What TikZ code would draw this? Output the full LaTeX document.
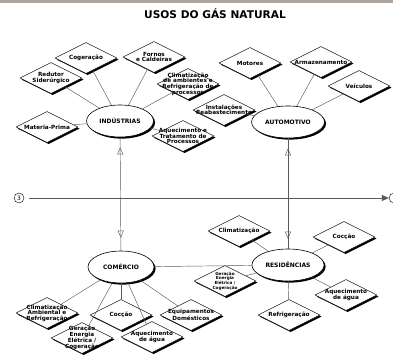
\documentclass[tikz,border=0pt]{standalone}
\usepackage{fontspec}
\setmainfont{DejaVu Sans}
\usetikzlibrary{shapes.geometric,arrows.meta,decorations.markings}

\begin{document}
\begin{tikzpicture}[x=1pt,y=-1pt,
  sombra/.style={preaction={fill=black,transform canvas={xshift=1.6pt,yshift=-1.6pt}}},
  losango/.style={draw,diamond,fill=white,sombra,line width=0.4pt,inner sep=0pt,
    minimum width=62pt,minimum height=31pt},
  texto/.style={font=\fontsize{5.7}{5.6}\selectfont\bfseries,align=center,inner sep=0pt},
  elipse/.style={draw,ellipse,fill=white,sombra,line width=0.6pt,minimum width=66pt,
    minimum height=32pt,font=\fontsize{6}{7}\selectfont\bfseries},
  liga/.style={draw,black!65,line width=0.45pt},
  seta/.tip={Triangle[open,width=6pt,length=7pt]}]
\small
\newcommand\losango[4][]{
\node[losango] (#2) at (#3) {};
\node[texto,#1] at (#2) {#4};
}
\useasboundingbox (0,0) rectangle (393,358);
\fill[color={rgb,255:red,173;green,164;blue,158}] (0,0) rectangle (393,3.5);
\node[font=\fontsize{10.6}{12}\selectfont\bfseries] (titulo) at (215,14) {USOS DO GÁS NATURAL};
% industrias
\losango{cog}{86,58}{Cogeração}
\losango{forn}{154,57}{Fornos\\e Caldeiras}
\losango{red}{51,78}{Redutor\\Siderúrgico}
\losango{mat}{47,127}{Materia-Prima}
\losango{climi}{188,84}{Climatização\\de ambientes e\\Refrigeração de\\processos}
\losango{inst}{224,110}{Instalações\\Reabastecimento}
\losango{aqi}{183,136}{Aquecimento e\\Tratamento de\\Processos}
\node[elipse] (ind) at (120,121) {INDÚSTRIAS};
\path[liga] (ind) -- (cog);
\path[liga] (ind) -- (forn);
\path[liga] (ind) -- (red);
\path[liga] (ind) -- (mat);
\path[liga] (ind) -- (climi);
\path[liga] (ind) -- (aqi);
% automotivo
\losango{mot}{250,63}{Motores}
\losango{arm}{321,62}{Armazenamento}
\losango{vei}{359,86}{Veículos}
\node[elipse] (auto) at (288,122) {AUTOMOTIVO};
\path[liga] (auto) -- (mot);
\path[liga] (auto) -- (arm);
\path[liga] (auto) -- (vei);
\path[liga] (auto) -- (inst);
% comercio
\losango{climc}{47,313}{Climatização\\Ambiental e\\Refrigeração}
\losango{gerc}{82,338}{Geração\\Energia\\Elétrica /\\Cogeração}
\losango{cocc}{121,315}{Cocção}
\losango{aqc}{152,337}{Aquecimento\\de água}
\losango{equ}{191,315}{Equipamentos\\Domésticos}
\node[elipse] (com) at (121,267) {COMÉRCIO};
\path[liga] (com) -- (climc);
\path[liga] (com) -- (gerc);
\path[liga] (com) -- (cocc);
\path[liga] (com) -- (aqc);
\path[liga] (com) -- (equ);
% residencias
\losango{climr}{239,231}{Climatização}
\losango{cocr}{344,237}{Cocção}
\losango[font=\fontsize{4.2}{4.6}\selectfont\bfseries]{gerr}{225,281}{Geração\\Energia\\Elétrica /\\Cogeração}
\losango{aqr}{346,295}{Aquecimento\\de água}
\losango{refr}{289,315}{Refrigeração}
\node[elipse] (res) at (288,265) {RESIDÊNCIAS};
\path[liga] (res) -- (climr);
\path[liga] (res) -- (cocr);
\path[liga] (res) -- (gerr);
\path[liga] (res) -- (aqr);
\path[liga] (res) -- (refr);
\path[liga] (com) -- (res);
% ligacoes verticais
\path[liga,postaction={decorate,decoration={markings,
  mark=at position 10pt with {\arrowreversed{seta}},
  mark=at position -13pt with {\arrow{seta}}}}] (ind) -- (com);
\path[liga,postaction={decorate,decoration={markings,
  mark=at position 10pt with {\arrowreversed{seta}},
  mark=at position -10pt with {\arrow{seta}}}}] (auto) -- (res);
% linha horizontal
\node[draw,circle,inner sep=0pt,minimum size=10pt,font=\fontsize{6}{6}\selectfont] (c3) at (19,198) {3};
\node[draw,circle,inner sep=0pt,minimum size=10pt] (c4) at (394,198) {};
\path[liga,-{Triangle[width=6pt,length=7pt]},shorten <=5pt] (c3) -- (c4);
\end{tikzpicture}
\end{document}
